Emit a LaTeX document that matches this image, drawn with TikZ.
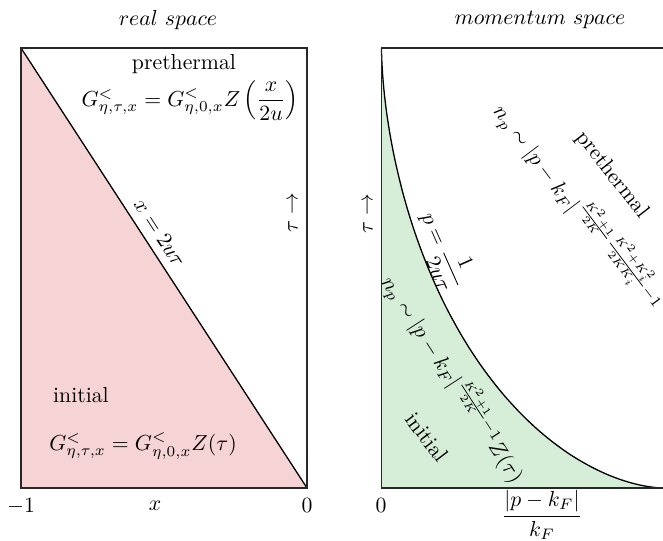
\documentclass[tikz,border=0pt]{standalone}
\usepackage{amsmath}
\definecolor{pinkfill}{RGB}{246,211,213}
\definecolor{greenfill}{RGB}{214,237,216}
\definecolor{linecol}{RGB}{40,40,40}
\begin{document}
\begin{tikzpicture}[x=0.46pt,y=-0.46pt,
  frame/.style={line width=0.8pt, draw=linecol},
  bound/.style={line width=0.6pt, draw=black},
  lbl/.style={inner sep=1pt}]
\useasboundingbox (0,0) rectangle (663,541);
% left panel
\fill[pinkfill] (21,48) -- (307,488) -- (21,488) -- cycle;
\draw[bound] (21,48) -- (307,488);
\draw[frame] (21,48) rectangle (307,488);
% right panel
\coordinate (ctop) at (381.5,48);
\coordinate (cend) at (663,488);
\coordinate (corner) at (381.5,488);
\fill[greenfill] (cend) -- plot[domain=0.3:89.7, samples=120, variable=\t] ({381.5+281.5*exp(3.333*ln(cos(\t)))}, {488-440*exp(3.333*ln(sin(\t)))}) -- (ctop) -- (corner) -- cycle;
\draw[bound] (cend) -- plot[domain=0.3:89.7, samples=120, variable=\t] ({381.5+281.5*exp(3.333*ln(cos(\t)))}, {488-440*exp(3.333*ln(sin(\t)))}) -- (ctop);
\draw[frame] (663,48) -- (ctop) -- (corner) -- (cend);
% titles
\node[lbl] (t1) at (168,20) {$real\ space$};
\node[lbl] (t2) at (540,20) {$momentum\ space$};
% left labels
\node[lbl] (pre1) at (184,64) {prethermal};
\node[lbl] (eq1) at (190,101) {$G^{<}_{\eta,\tau,x}=G^{<}_{\eta,0,x}Z\left(\dfrac{x}{2u}\right)$};
\node[lbl] (ini1) at (81,395) {initial};
\node[lbl] (eq2) at (143,446) {$G^{<}_{\eta,\tau,x}=G^{<}_{\eta,0,x}Z(\tau)$};
\node[lbl, rotate=-57] (diag) at (160,233) {$x=2u\tau$};
\node[lbl, rotate=90] (tau1) at (293,213) {$\tau\rightarrow$};
\node[lbl] (m1) at (21,506) {$-1$};
\node[lbl] (xl) at (155,506) {$x$};
\node[lbl] (z1) at (307,506) {$0$};
% right labels
\node[lbl, rotate=90] (tau2) at (368,214) {$\tau\rightarrow$};
\node[lbl] (z2) at (381,506) {$0$};
\node[lbl] (pl) at (542,515) {$\dfrac{|p-k_F|}{k_F}$};
\node[lbl, rotate=-66] (curvelbl) at (444,250) {$p=\dfrac{1}{2u\tau}$};
\node[lbl, rotate=-57] (np1) at (455,378) {$n_p\sim|p-k_F|^{\frac{K^2+1}{2K}-1}Z(\tau)$};
\node[lbl, rotate=-53] (ini2) at (427,437) {initial};
\node[lbl, rotate=-52] (pre2) at (612,175) {prethermal};
\node[lbl, rotate=-53] (np2) at (580,206) {$n_p\sim|p-k_F|^{\frac{K^2+1}{2K}\frac{K^2+K_i^2}{2KK_i}-1}$};
\end{tikzpicture}
\end{document}
